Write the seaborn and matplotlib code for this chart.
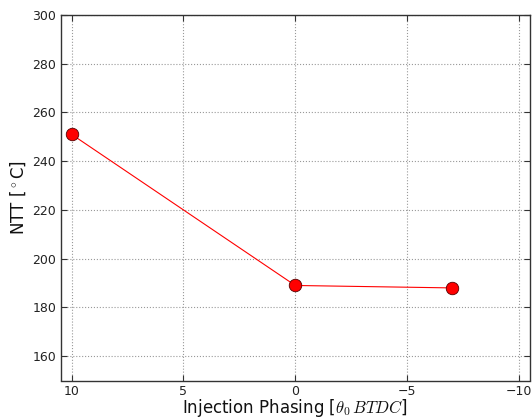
import matplotlib
matplotlib.use("Agg")
import matplotlib.pyplot as plt
import seaborn as sns
import pandas as pd

# Data
injection_phasing = [10, 0, -7]
ntt_values = [251, 189, 188]
x_ticks = [10, 5, 0, -5, -10]
y_ticks = [160, 180, 200, 220, 240, 260, 280, 300]

sns.set_style("white")
plt.rcParams["font.family"] = ["DejaVu Sans"]
plt.rcParams["mathtext.fontset"] = "cm"

df = pd.DataFrame({"phasing": injection_phasing, "ntt": ntt_values})

fig = plt.figure(figsize=(5.32, 4.19), dpi=100)
ax = fig.add_axes([60.5 / 532, 1 - 380.5 / 419, (530 - 60.5) / 532, (380.5 - 15) / 419])

sns.lineplot(data=df, x="phasing", y="ntt", ax=ax, color="red", linewidth=0.8,
             marker="o", markersize=9, markerfacecolor="red",
             markeredgecolor="#550000", markeredgewidth=0.6, sort=False)

ax.set_xlim(10.5, -10.5)
ax.set_ylim(150, 300)
ax.set_xticks(x_ticks)
ax.set_yticks(y_ticks)
ax.set_xticklabels(["10", "5", "0", "\u22125", "\u221210"])
ax.grid(True, color="#999999", linestyle=":", linewidth=0.8)
ax.set_axisbelow(True)

for s in ax.spines.values():
    s.set_color("#333333")
    s.set_linewidth(1.0)
    s.set_visible(True)

ax.tick_params(direction="in", length=4, width=0.8, color="#333333",
               top=True, right=True, bottom=True, left=True,
               labelsize=9, labelcolor="#222222", pad=3)

ax.set_xlabel(r"Injection Phasing [$\theta_0\,BTDC$]", fontsize=12, color="#111111", labelpad=-0.5)
ax.set_ylabel(r"NTT [$^\circ$C]", fontsize=12, color="#111111", labelpad=3)

fig.savefig("out.png", dpi=100)
